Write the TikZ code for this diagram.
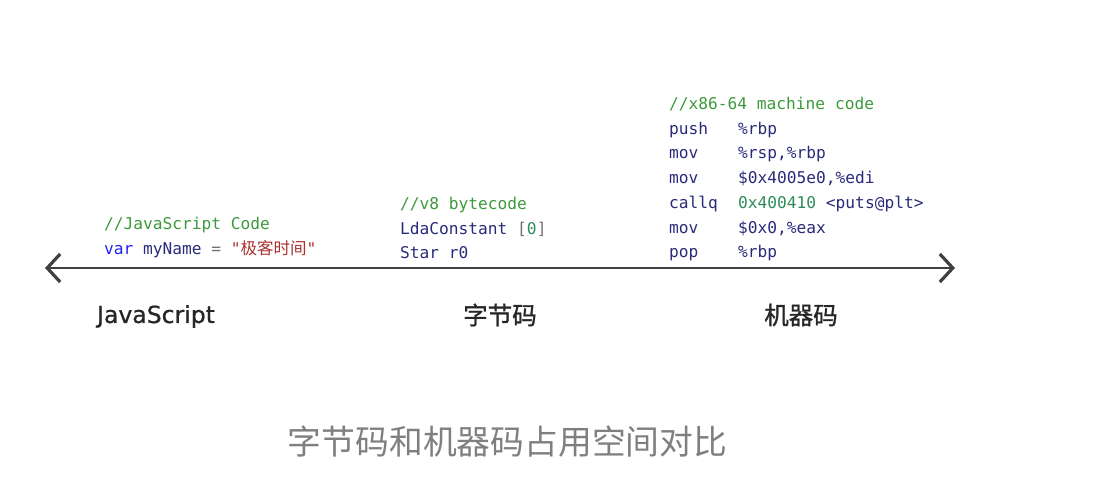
\documentclass[tikz,border=0pt]{standalone}
\usepackage{fontspec}
\setmonofont{DejaVu Sans Mono}
\setsansfont{DejaVu Sans}
\newfontfamily\cjk{Noto Sans CJK SC}
\newfontfamily\labfont[FakeBold=0.8]{DejaVu Sans}
\newfontfamily\cjklab[FakeBold=1.2]{Noto Sans CJK SC}
\usetikzlibrary{arrows.meta}
\definecolor{cmt}{HTML}{3C9A3C}
\definecolor{kw}{HTML}{2020F0}
\definecolor{idt}{HTML}{2A2A7A}
\definecolor{opc}{HTML}{707070}
\definecolor{strc}{HTML}{A83232}
\definecolor{numc}{HTML}{2E8B57}
\definecolor{capc}{HTML}{7F7F7F}
\tikzset{
  code/.style={anchor=base west, inner sep=0pt, font=\ttfamily\fontsize{16.2}{18}\selectfont, text=idt},
  label/.style={anchor=center, inner sep=0pt, text=black!85},
  axis/.style={line width=2.6pt, black!75, {Straight Barb[length=13pt,width=28pt,line width=3.2pt]}-{Straight Barb[length=13pt,width=28pt,line width=3.2pt]}},
}
\begin{document}
\begin{tikzpicture}[x=1pt,y=-1pt]
\useasboundingbox (0,0) rectangle (1118,500);
% JavaScript code
\node[code, text=cmt] (js1) at (104,229.5) {//JavaScript Code};
\node[code] (js2) at (104,254.5) {\textcolor{kw}{var} myName \textcolor{opc}{=} \textcolor{strc}{"{\cjk\fontsize{16.5}{18}\selectfont 极客时间}"}};
% bytecode
\node[code, text=cmt] (bc1) at (400,209.5) {//v8 bytecode};
\node[code] (bc2) at (400,234.5) {LdaConstant \textcolor{opc}{[}\textcolor{numc}{0}\textcolor{opc}{]}};
\node[code] (bc3) at (400,258.5) {Star r0};
% machine code
\node[code, text=cmt] (mc0) at (669,109.5) {//x86-64 machine code};
\node[code] (mc1a) at (669,134) {push};
\node[code] (mc1b) at (738,134) {\%rbp};
\node[code] (mc2a) at (669,158.5) {mov};
\node[code] (mc2b) at (738,158.5) {\%rsp,\%rbp};
\node[code] (mc3a) at (669,183.5) {mov};
\node[code] (mc3b) at (738,183.5) {\$0x4005e0,\%edi};
\node[code] (mc4a) at (669,208) {callq};
\node[code] (mc4b) at (738,208) {\textcolor{numc}{0x400410} <puts@plt>};
\node[code] (mc5a) at (669,233) {mov};
\node[code] (mc5b) at (738,233) {\$0x0,\%eax};
\node[code] (mc6a) at (669,257.5) {pop};
\node[code] (mc6b) at (738,257.5) {\%rbp};
% axis
\coordinate (L) at (45,268);
\coordinate (R) at (955,268);
\draw[axis] (L) -- (R);
% labels
\node[label, font=\labfont\fontsize{23.5}{26}\selectfont] (ljs) at (156,316.5) {JavaScript};
\node[label, font=\cjklab\fontsize{24.5}{27}\selectfont] (lbc) at (500,315) {字节码};
\node[label, font=\cjklab\fontsize{24.5}{27}\selectfont] (lmc) at (801,315) {机器码};
% caption
\node[anchor=center, inner sep=0pt, text=capc, font=\cjk\fontsize{33.8}{37}\selectfont] (cap) at (507.5,442) {字节码和机器码占用空间对比};
\end{tikzpicture}
\end{document}
